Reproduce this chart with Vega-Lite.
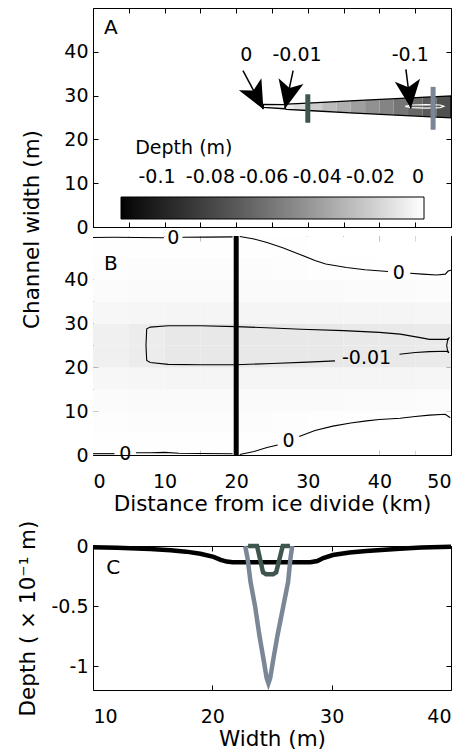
{
  "$schema": "https://vega.github.io/schema/vega-lite/v6.json",
  "padding": {"left": 17, "top": 7, "right": 5, "bottom": 5},
  "config": {
    "font": "DejaVu Sans",
    "view": {"stroke": "black", "strokeWidth": 1},
    "axis": {"domain": false, "grid": false, "ticks": true, "tickColor": "black", "tickSize": -5, "tickWidth": 1,
      "labelFont": "DejaVu Sans", "labelFontSize": 19, "labelColor": "black", "labelPadding": 10,
      "titleFont": "DejaVu Sans", "titleFontSize": 21.5, "titleFontWeight": "normal", "titleColor": "black"},
    "legend": {"padding": 0}
  },
  "datasets": {
    "chan": [
      {"x0": 23.8, "x1": 25, "lo": 27.25, "hi": 28.0, "d": -0.001},
      {"x0": 25, "x1": 26.8, "lo": 27.1, "hi": 27.95, "d": -0.002},
      {"x0": 26.8, "x1": 28, "lo": 26.85, "hi": 28.05, "d": -0.008},
      {"x0": 28, "x1": 30, "lo": 26.7, "hi": 28.2, "d": -0.013},
      {"x0": 30, "x1": 32, "lo": 26.5, "hi": 28.4, "d": -0.02},
      {"x0": 32, "x1": 34, "lo": 26.35, "hi": 28.55, "d": -0.027},
      {"x0": 34, "x1": 36, "lo": 26.15, "hi": 28.75, "d": -0.033},
      {"x0": 36, "x1": 38, "lo": 25.95, "hi": 28.9, "d": -0.039},
      {"x0": 38, "x1": 40, "lo": 25.8, "hi": 29.05, "d": -0.045},
      {"x0": 40, "x1": 42, "lo": 25.65, "hi": 29.2, "d": -0.051},
      {"x0": 42, "x1": 44, "lo": 25.5, "hi": 29.35, "d": -0.057},
      {"x0": 44, "x1": 46, "lo": 25.35, "hi": 29.5, "d": -0.064},
      {"x0": 46, "x1": 48, "lo": 25.2, "hi": 29.7, "d": -0.07},
      {"x0": 48, "x1": 50, "lo": 25.0, "hi": 29.9, "d": -0.075}
    ],
    "outline": [
      {"o": 1, "x": 23.8, "y": 27.3}, {"o": 2, "x": 23.8, "y": 28.0}, {"o": 3, "x": 26.8, "y": 27.95},
      {"o": 4, "x": 27.0, "y": 28.05}, {"o": 5, "x": 30, "y": 28.3}, {"o": 6, "x": 36.6, "y": 28.85},
      {"o": 7, "x": 43, "y": 29.35}, {"o": 8, "x": 50, "y": 29.95}, {"o": 9, "x": 50, "y": 24.9},
      {"o": 10, "x": 43, "y": 25.5}, {"o": 11, "x": 36.6, "y": 26.0}, {"o": 12, "x": 30, "y": 26.6},
      {"o": 13, "x": 27.0, "y": 26.85}, {"o": 14, "x": 26.8, "y": 27.0}, {"o": 15, "x": 23.8, "y": 27.3}
    ],
    "loop": [
      {"o": 1, "x": 43.6, "y": 27.55}, {"o": 2, "x": 44.5, "y": 27.85}, {"o": 3, "x": 46.5, "y": 27.95},
      {"o": 4, "x": 48.5, "y": 27.85}, {"o": 5, "x": 49.0, "y": 27.55}, {"o": 6, "x": 48.5, "y": 27.25},
      {"o": 7, "x": 46.5, "y": 27.15}, {"o": 8, "x": 44.5, "y": 27.25}, {"o": 9, "x": 43.6, "y": 27.55}
    ],
    "arrows": [
      {"label": "0", "xs": 20.95, "ys": 35.7, "xt": 23.8, "yt": 26.9, "xl": 21.4, "yl": 39.2},
      {"label": "-0.01", "xs": 27.95, "ys": 35.7, "xt": 26.8, "yt": 27.0, "xl": 28.5, "yl": 39.2},
      {"label": "-0.1", "xs": 43.7, "ys": 36.0, "xt": 44.4, "yt": 27.1, "xl": 44.3, "yl": 39.2}
    ],
    "bars": [
      {"profile": "x = 30 km", "pos": 30.0, "lo": 23.8, "hi": 30.3},
      {"profile": "x = 47.5 km", "pos": 47.5, "lo": 22.2, "hi": 32.0}
    ],
    "heat": [
      {"x0": 0, "y0": 0, "d": -0.0004}, {"x0": 0, "y0": 5, "d": -0.0008}, {"x0": 0, "y0": 10, "d": -0.0015}, {"x0": 0, "y0": 15, "d": -0.003}, {"x0": 0, "y0": 20, "d": -0.006},
      {"x0": 0, "y0": 25, "d": -0.006}, {"x0": 0, "y0": 30, "d": -0.003}, {"x0": 0, "y0": 35, "d": -0.0015}, {"x0": 0, "y0": 40, "d": -0.0008}, {"x0": 0, "y0": 45, "d": -0.0004},
      {"x0": 5, "y0": 0, "d": -0.0005}, {"x0": 5, "y0": 5, "d": -0.001}, {"x0": 5, "y0": 10, "d": -0.0018}, {"x0": 5, "y0": 15, "d": -0.0035}, {"x0": 5, "y0": 20, "d": -0.0075},
      {"x0": 5, "y0": 25, "d": -0.0075}, {"x0": 5, "y0": 30, "d": -0.0035}, {"x0": 5, "y0": 35, "d": -0.0018}, {"x0": 5, "y0": 40, "d": -0.001}, {"x0": 5, "y0": 45, "d": -0.0005},
      {"x0": 10, "y0": 0, "d": -0.0005}, {"x0": 10, "y0": 5, "d": -0.001}, {"x0": 10, "y0": 10, "d": -0.002}, {"x0": 10, "y0": 15, "d": -0.004}, {"x0": 10, "y0": 20, "d": -0.009},
      {"x0": 10, "y0": 25, "d": -0.009}, {"x0": 10, "y0": 30, "d": -0.004}, {"x0": 10, "y0": 35, "d": -0.002}, {"x0": 10, "y0": 40, "d": -0.001}, {"x0": 10, "y0": 45, "d": -0.0005},
      {"x0": 15, "y0": 0, "d": -0.0005}, {"x0": 15, "y0": 5, "d": -0.001}, {"x0": 15, "y0": 10, "d": -0.002}, {"x0": 15, "y0": 15, "d": -0.004}, {"x0": 15, "y0": 20, "d": -0.009},
      {"x0": 15, "y0": 25, "d": -0.009}, {"x0": 15, "y0": 30, "d": -0.004}, {"x0": 15, "y0": 35, "d": -0.002}, {"x0": 15, "y0": 40, "d": -0.001}, {"x0": 15, "y0": 45, "d": -0.0005},
      {"x0": 20, "y0": 0, "d": -0.0004}, {"x0": 20, "y0": 5, "d": -0.001}, {"x0": 20, "y0": 10, "d": -0.002}, {"x0": 20, "y0": 15, "d": -0.004}, {"x0": 20, "y0": 20, "d": -0.009},
      {"x0": 20, "y0": 25, "d": -0.009}, {"x0": 20, "y0": 30, "d": -0.004}, {"x0": 20, "y0": 35, "d": -0.002}, {"x0": 20, "y0": 40, "d": -0.001}, {"x0": 20, "y0": 45, "d": -0.0004},
      {"x0": 25, "y0": 0, "d": -0.0002}, {"x0": 25, "y0": 5, "d": -0.0009}, {"x0": 25, "y0": 10, "d": -0.002}, {"x0": 25, "y0": 15, "d": -0.004}, {"x0": 25, "y0": 20, "d": -0.009},
      {"x0": 25, "y0": 25, "d": -0.009}, {"x0": 25, "y0": 30, "d": -0.004}, {"x0": 25, "y0": 35, "d": -0.002}, {"x0": 25, "y0": 40, "d": -0.0009}, {"x0": 25, "y0": 45, "d": -0.0002},
      {"x0": 30, "y0": 0, "d": 0}, {"x0": 30, "y0": 5, "d": -0.0005}, {"x0": 30, "y0": 10, "d": -0.0018}, {"x0": 30, "y0": 15, "d": -0.004}, {"x0": 30, "y0": 20, "d": -0.009},
      {"x0": 30, "y0": 25, "d": -0.009}, {"x0": 30, "y0": 30, "d": -0.004}, {"x0": 30, "y0": 35, "d": -0.0018}, {"x0": 30, "y0": 40, "d": -0.0005}, {"x0": 30, "y0": 45, "d": 0},
      {"x0": 35, "y0": 0, "d": 0}, {"x0": 35, "y0": 5, "d": -0.0003}, {"x0": 35, "y0": 10, "d": -0.0016}, {"x0": 35, "y0": 15, "d": -0.004}, {"x0": 35, "y0": 20, "d": -0.0088},
      {"x0": 35, "y0": 25, "d": -0.0088}, {"x0": 35, "y0": 30, "d": -0.004}, {"x0": 35, "y0": 35, "d": -0.0016}, {"x0": 35, "y0": 40, "d": -0.0003}, {"x0": 35, "y0": 45, "d": 0},
      {"x0": 40, "y0": 0, "d": 0}, {"x0": 40, "y0": 5, "d": 0}, {"x0": 40, "y0": 10, "d": -0.0015}, {"x0": 40, "y0": 15, "d": -0.004}, {"x0": 40, "y0": 20, "d": -0.0086},
      {"x0": 40, "y0": 25, "d": -0.0086}, {"x0": 40, "y0": 30, "d": -0.004}, {"x0": 40, "y0": 35, "d": -0.0015}, {"x0": 40, "y0": 40, "d": 0}, {"x0": 40, "y0": 45, "d": 0},
      {"x0": 45, "y0": 0, "d": 0}, {"x0": 45, "y0": 5, "d": 0}, {"x0": 45, "y0": 10, "d": -0.0013}, {"x0": 45, "y0": 15, "d": -0.0036}, {"x0": 45, "y0": 20, "d": -0.0082},
      {"x0": 45, "y0": 25, "d": -0.0082}, {"x0": 45, "y0": 30, "d": -0.0036}, {"x0": 45, "y0": 35, "d": -0.0013}, {"x0": 45, "y0": 40, "d": 0}, {"x0": 45, "y0": 45, "d": 0}
    ],
    "cont": [
      {"id": "t0a", "o": 1, "x": 0, "y": 49.65}, {"id": "t0a", "o": 2, "x": 3, "y": 49.7}, {"id": "t0a", "o": 3, "x": 6, "y": 49.65}, {"id": "t0a", "o": 4, "x": 9.9, "y": 49.6},
      {"id": "t0b", "o": 1, "x": 12.5, "y": 49.7}, {"id": "t0b", "o": 2, "x": 16, "y": 49.75}, {"id": "t0b", "o": 3, "x": 19.5, "y": 49.8},
      {"id": "t0c", "o": 1, "x": 20.5, "y": 49.9}, {"id": "t0c", "o": 2, "x": 22.5, "y": 49.3}, {"id": "t0c", "o": 3, "x": 24.3, "y": 48.5}, {"id": "t0c", "o": 4, "x": 26.5, "y": 47.3},
      {"id": "t0c", "o": 5, "x": 28.9, "y": 45.8}, {"id": "t0c", "o": 6, "x": 31, "y": 44.4}, {"id": "t0c", "o": 7, "x": 32.5, "y": 43.6}, {"id": "t0c", "o": 8, "x": 35.4, "y": 42.8},
      {"id": "t0c", "o": 9, "x": 38, "y": 42.3}, {"id": "t0c", "o": 10, "x": 41.2, "y": 41.9},
      {"id": "t0d", "o": 1, "x": 44.3, "y": 41.5}, {"id": "t0d", "o": 2, "x": 46, "y": 41.3}, {"id": "t0d", "o": 3, "x": 48, "y": 41.1}, {"id": "t0d", "o": 4, "x": 49.2, "y": 41.3},
      {"id": "t0d", "o": 5, "x": 49.6, "y": 42.0}, {"id": "t0d", "o": 6, "x": 50, "y": 42.2},
      {"id": "b0a", "o": 1, "x": 0, "y": 0.3}, {"id": "b0a", "o": 2, "x": 3.0, "y": 0.3},
      {"id": "b0b", "o": 1, "x": 6.0, "y": 0.5}, {"id": "b0b", "o": 2, "x": 8, "y": 0.5}, {"id": "b0b", "o": 3, "x": 10, "y": 0.6}, {"id": "b0b", "o": 4, "x": 12, "y": 0.4},
      {"id": "b0b", "o": 5, "x": 15, "y": 0.35}, {"id": "b0b", "o": 6, "x": 19.5, "y": 0.3},
      {"id": "b0c", "o": 1, "x": 20.5, "y": 0.1}, {"id": "b0c", "o": 2, "x": 22.5, "y": 0.8}, {"id": "b0c", "o": 3, "x": 24.3, "y": 1.7}, {"id": "b0c", "o": 4, "x": 25.8, "y": 2.3},
      {"id": "b0d", "o": 1, "x": 28.8, "y": 4.2}, {"id": "b0d", "o": 2, "x": 31, "y": 5.6}, {"id": "b0d", "o": 3, "x": 33.5, "y": 6.6}, {"id": "b0d", "o": 4, "x": 36, "y": 7.3},
      {"id": "b0d", "o": 5, "x": 38.2, "y": 7.8}, {"id": "b0d", "o": 6, "x": 40, "y": 8.1}, {"id": "b0d", "o": 7, "x": 42.9, "y": 8.4}, {"id": "b0d", "o": 8, "x": 45, "y": 8.8},
      {"id": "b0d", "o": 9, "x": 47, "y": 9.1}, {"id": "b0d", "o": 10, "x": 49.2, "y": 9.3}, {"id": "b0d", "o": 11, "x": 49.9, "y": 8.5},
      {"id": "m1", "o": 1, "x": 42.8, "y": 23.0}, {"id": "m1", "o": 2, "x": 45, "y": 23.4}, {"id": "m1", "o": 3, "x": 47, "y": 23.6}, {"id": "m1", "o": 4, "x": 49.4, "y": 23.7},
      {"id": "m1", "o": 5, "x": 49.7, "y": 23.3}, {"id": "m1", "o": 6, "x": 49.5, "y": 24.0}, {"id": "m1", "o": 7, "x": 49.4, "y": 25.0}, {"id": "m1", "o": 8, "x": 49.5, "y": 26.0},
      {"id": "m1", "o": 9, "x": 49.7, "y": 26.7}, {"id": "m1", "o": 10, "x": 49.4, "y": 26.4}, {"id": "m1", "o": 11, "x": 48.5, "y": 26.4}, {"id": "m1", "o": 12, "x": 47, "y": 26.4},
      {"id": "m1", "o": 13, "x": 45.7, "y": 26.8}, {"id": "m1", "o": 14, "x": 42.9, "y": 27.6}, {"id": "m1", "o": 15, "x": 40, "y": 28.0}, {"id": "m1", "o": 16, "x": 35, "y": 28.4},
      {"id": "m1", "o": 17, "x": 29.1, "y": 28.7}, {"id": "m1", "o": 18, "x": 25, "y": 29.0}, {"id": "m1", "o": 19, "x": 20, "y": 29.3}, {"id": "m1", "o": 20, "x": 15, "y": 29.5},
      {"id": "m1", "o": 21, "x": 10.5, "y": 29.5}, {"id": "m1", "o": 22, "x": 8, "y": 29.2}, {"id": "m1", "o": 23, "x": 7.5, "y": 28.8}, {"id": "m1", "o": 24, "x": 7.4, "y": 25},
      {"id": "m1", "o": 25, "x": 7.5, "y": 21.6}, {"id": "m1", "o": 26, "x": 8, "y": 21.1}, {"id": "m1", "o": 27, "x": 10.5, "y": 20.7}, {"id": "m1", "o": 28, "x": 15, "y": 20.6},
      {"id": "m1", "o": 29, "x": 20, "y": 20.6}, {"id": "m1", "o": 30, "x": 25, "y": 20.9}, {"id": "m1", "o": 31, "x": 30, "y": 21.2}, {"id": "m1", "o": 32, "x": 33.8, "y": 21.5}
    ],
    "clab": [
      {"t": "0", "x": 11.2, "y": 49.5},
      {"t": "0", "x": 42.7, "y": 41.6},
      {"t": "-0.01", "x": 38.2, "y": 22.1},
      {"t": "0", "x": 4.5, "y": 0.3},
      {"t": "0", "x": 27.3, "y": 3.1}
    ],
    "section": [{"profile": "x = 20 km", "x": 20}],
    "prof": [
      {"profile": "x = 20 km", "w": 10, "d": -0.01}, {"profile": "x = 20 km", "w": 12, "d": -0.015}, {"profile": "x = 20 km", "w": 14.8, "d": -0.025},
      {"profile": "x = 20 km", "w": 16.5, "d": -0.035}, {"profile": "x = 20 km", "w": 17.8, "d": -0.047}, {"profile": "x = 20 km", "w": 19, "d": -0.065},
      {"profile": "x = 20 km", "w": 20.1, "d": -0.09}, {"profile": "x = 20 km", "w": 20.7, "d": -0.115}, {"profile": "x = 20 km", "w": 21.2, "d": -0.13},
      {"profile": "x = 20 km", "w": 21.7, "d": -0.135}, {"profile": "x = 20 km", "w": 25, "d": -0.135}, {"profile": "x = 20 km", "w": 28.2, "d": -0.135},
      {"profile": "x = 20 km", "w": 28.8, "d": -0.125}, {"profile": "x = 20 km", "w": 29.3, "d": -0.1}, {"profile": "x = 20 km", "w": 30.1, "d": -0.075},
      {"profile": "x = 20 km", "w": 31.5, "d": -0.055}, {"profile": "x = 20 km", "w": 32.9, "d": -0.042}, {"profile": "x = 20 km", "w": 35.7, "d": -0.022},
      {"profile": "x = 20 km", "w": 37.5, "d": -0.012}, {"profile": "x = 20 km", "w": 40, "d": -0.006},
      {"profile": "x = 30 km", "w": 23.0, "d": 0}, {"profile": "x = 30 km", "w": 23.75, "d": 0}, {"profile": "x = 30 km", "w": 24.25, "d": -0.22},
      {"profile": "x = 30 km", "w": 24.5, "d": -0.235}, {"profile": "x = 30 km", "w": 25.1, "d": -0.235}, {"profile": "x = 30 km", "w": 25.35, "d": -0.22},
      {"profile": "x = 30 km", "w": 25.9, "d": 0}, {"profile": "x = 30 km", "w": 26.5, "d": 0},
      {"profile": "x = 47.5 km", "w": 22.75, "d": 0}, {"profile": "x = 47.5 km", "w": 22.95, "d": -0.1}, {"profile": "x = 47.5 km", "w": 23.2, "d": -0.3},
      {"profile": "x = 47.5 km", "w": 23.58, "d": -0.5}, {"profile": "x = 47.5 km", "w": 23.95, "d": -0.75}, {"profile": "x = 47.5 km", "w": 24.3, "d": -0.95},
      {"profile": "x = 47.5 km", "w": 24.55, "d": -1.1}, {"profile": "x = 47.5 km", "w": 24.7, "d": -1.145}, {"profile": "x = 47.5 km", "w": 24.85, "d": -1.1},
      {"profile": "x = 47.5 km", "w": 25.1, "d": -0.95}, {"profile": "x = 47.5 km", "w": 25.45, "d": -0.75}, {"profile": "x = 47.5 km", "w": 25.95, "d": -0.5},
      {"profile": "x = 47.5 km", "w": 26.35, "d": -0.3}, {"profile": "x = 47.5 km", "w": 26.55, "d": -0.1}, {"profile": "x = 47.5 km", "w": 26.7, "d": 0}
    ]
  },
  "vconcat": [
    {
      "vconcat": [
        {
          "width": 358, "height": 219,
          "resolve": {"axis": {"x": "independent", "y": "independent"}},
          "layer": [
            {
              "data": {"name": "chan"},
              "mark": {"type": "rect"},
              "encoding": {
                "x": {"field": "x0", "type": "quantitative", "scale": {"domain": [0, 50], "nice": false, "zero": false},
                  "axis": {"orient": "bottom", "values": [0, 5, 10, 15, 20, 25, 30, 35, 40, 45, 50], "labels": false, "title": null}},
                "x2": {"field": "x1"},
                "y": {"field": "lo", "type": "quantitative", "scale": {"domain": [0, 50], "nice": false, "zero": false},
                  "axis": {"orient": "left", "values": [0, 10, 20, 30, 40], "title": null}},
                "y2": {"field": "hi"},
                "color": {"field": "d", "type": "quantitative",
                  "scale": {"type": "linear", "domain": [-0.1135, 0], "range": ["#000000", "#ffffff"], "clamp": true},
                  "legend": {"orient": "none", "legendX": 28, "legendY": 189, "direction": "horizontal",
                    "gradientLength": 303, "gradientThickness": 22, "gradientStrokeColor": "black", "gradientStrokeWidth": 1,
                    "title": null,
                    "values": [-0.1, -0.08, -0.06, -0.04, -0.02, 0], "format": "~g", "labelExpr": "replace(datum.label, '\u2212', '-')",
                    "labelFont": "DejaVu Sans", "labelFontSize": 19, "labelColor": "black", "labelOffset": -51, "labelBaseline": "alphabetic", "labelAlign": "center", "labelOverlap": false}}
              }
            },
            {
              "data": {"name": "outline"},
              "mark": {"type": "line", "color": "black", "strokeWidth": 1.3},
              "encoding": {
                "x": {"field": "x", "type": "quantitative", "axis": {"orient": "top", "values": [0, 5, 10, 15, 20, 25, 30, 35, 40, 45, 50], "labels": false, "title": null}},
                "y": {"field": "y", "type": "quantitative", "axis": {"orient": "right", "values": [0, 10, 20, 30, 40], "labels": false, "title": null}},
                "order": {"field": "o"}
              }
            },
            {
              "data": {"name": "loop"},
              "mark": {"type": "line", "color": "white", "strokeWidth": 1.2},
              "encoding": {"x": {"field": "x", "type": "quantitative", "axis": null}, "y": {"field": "y", "type": "quantitative", "axis": null}, "order": {"field": "o"}}
            },
            {
              "data": {"name": "bars"},
              "mark": {"type": "rule", "strokeWidth": 5},
              "encoding": {
                "x": {"field": "pos", "type": "quantitative", "axis": null},
                "y": {"field": "lo", "type": "quantitative", "axis": null},
                "y2": {"field": "hi"},
                "stroke": {"field": "profile", "type": "nominal", "scale": {"domain": ["x = 20 km", "x = 30 km", "x = 47.5 km"], "range": ["#000000", "#3f5650", "#7b8696"]}, "legend": null}
              }
            },
            {
              "data": {"name": "arrows"},
              "mark": {"type": "rule", "color": "black", "strokeWidth": 1.5},
              "encoding": {
                "x": {"field": "xs", "type": "quantitative", "axis": null}, "y": {"field": "ys", "type": "quantitative", "axis": null},
                "x2": {"field": "xt"}, "y2": {"field": "yt"}
              }
            },
            {
              "data": {"name": "arrows"},
              "mark": {"type": "point", "shape": "M0,0L-0.9,-2L0,-1.5L0.9,-2Z", "filled": true, "color": "black", "opacity": 1, "size": 800},
              "encoding": {
                "x": {"field": "xt", "type": "quantitative", "axis": null}, "y": {"field": "yt", "type": "quantitative", "axis": null},
                "angle": {"condition": [{"test": "datum.label === '0'", "value": 332}, {"test": "datum.label === '-0.01'", "value": 12.5}], "value": 353}
              }
            },
            {
              "data": {"name": "arrows"},
              "mark": {"type": "text", "fontSize": 19, "color": "black", "baseline": "middle", "align": "center"},
              "encoding": {
                "x": {"field": "xl", "type": "quantitative", "axis": null}, "y": {"field": "yl", "type": "quantitative", "axis": null},
                "text": {"field": "label"}
              }
            },
            {
              "data": {"values": [{"t": "A", "x": 2.5, "y": 45.5}]},
              "mark": {"type": "text", "fontSize": 20, "color": "black", "baseline": "middle", "align": "center"},
              "encoding": {"x": {"field": "x", "type": "quantitative", "axis": null}, "y": {"field": "y", "type": "quantitative", "axis": null}, "text": {"field": "t"}}
            },
            {
              "data": {"values": [{"t": "Depth (m)", "x": 5.9, "y": 18.0}]},
              "mark": {"type": "text", "fontSize": 19, "color": "black", "baseline": "middle", "align": "left"},
              "encoding": {"x": {"field": "x", "type": "quantitative", "axis": null}, "y": {"field": "y", "type": "quantitative", "axis": null}, "text": {"field": "t"}}
            }
          ]
        },
        {
          "width": 358, "height": 219,
          "resolve": {"axis": {"x": "independent", "y": "independent"}},
          "layer": [
            {
              "data": {"name": "heat"},
              "transform": [{"calculate": "datum.x0 + 5", "as": "x1"}, {"calculate": "datum.y0 + 5", "as": "y1"}],
              "mark": {"type": "rect"},
              "encoding": {
                "x": {"field": "x0", "type": "quantitative", "scale": {"domain": [0, 50], "nice": false, "zero": false},
                  "axis": {"orient": "bottom", "values": [0, 5, 10, 15, 20, 25, 30, 35, 40, 45, 50], "labelExpr": "datum.value % 10 === 0 ? datum.label : ''", "title": "Distance from ice divide (km)", "labelPadding": 22, "titlePadding": 2}},
                "x2": {"field": "x1"},
                "y": {"field": "y0", "type": "quantitative", "scale": {"domain": [0, 50], "nice": false, "zero": false},
                  "axis": {"orient": "left", "values": [0, 10, 20, 30, 40], "title": "Channel width (m)", "titleY": -7, "titlePadding": 20}},
                "y2": {"field": "y1"},
                "color": {"field": "d", "type": "quantitative", "scale": {"type": "linear", "domain": [-0.1135, 0], "range": ["#000000", "#ffffff"], "clamp": true}, "legend": null}
              }
            },
            {
              "data": {"name": "cont"},
              "mark": {"type": "line", "color": "black", "strokeWidth": 1.1},
              "encoding": {
                "x": {"field": "x", "type": "quantitative", "axis": {"orient": "top", "values": [0, 5, 10, 15, 20, 25, 30, 35, 40, 45, 50], "labels": false, "title": null}},
                "y": {"field": "y", "type": "quantitative", "axis": {"orient": "right", "values": [0, 10, 20, 30, 40], "labels": false, "title": null}},
                "detail": {"field": "id"}, "order": {"field": "o"}
              }
            },
            {
              "data": {"name": "clab"},
              "mark": {"type": "text", "fontSize": 19, "color": "black", "baseline": "middle", "align": "center"},
              "encoding": {"x": {"field": "x", "type": "quantitative", "axis": null}, "y": {"field": "y", "type": "quantitative", "axis": null}, "text": {"field": "t"}}
            },
            {
              "data": {"name": "section"},
              "mark": {"type": "rule", "color": "black", "strokeWidth": 5},
              "encoding": {"x": {"field": "x", "type": "quantitative", "axis": null}}
            },
            {
              "data": {"values": [{"t": "B", "x": 2.5, "y": 43.5}]},
              "mark": {"type": "text", "fontSize": 20, "color": "black", "baseline": "middle", "align": "center"},
              "encoding": {"x": {"field": "x", "type": "quantitative", "axis": null}, "y": {"field": "y", "type": "quantitative", "axis": null}, "text": {"field": "t"}}
            }
          ]
        }
      ],
      "spacing": 9,
      "bounds": "flush",
      "resolve": {"scale": {"color": "independent"}, "legend": {"color": "independent"}}
    },
    {
      "width": 358, "height": 144,
      "resolve": {"axis": {"x": "independent", "y": "independent"}},
      "layer": [
        {
          "data": {"name": "prof"},
          "transform": [{"filter": "datum.profile !== 'x = 30 km'"}],
          "mark": {"type": "line", "strokeWidth": 4.5},
          "encoding": {
            "x": {"field": "w", "type": "quantitative", "scale": {"domain": [10, 40], "nice": false, "zero": false},
              "axis": {"orient": "bottom", "values": [10, 20, 30, 40], "title": "Width (m)", "labelPadding": 22, "titlePadding": 2}},
            "y": {"field": "d", "type": "quantitative", "scale": {"domain": [-1.2, 0], "nice": false, "zero": false},
              "axis": {"orient": "left", "values": [0, -0.5, -1], "format": "~g", "labelExpr": "replace(datum.label, '\u2212', '-')", "title": "Depth ( \u00d7 10\u207b\u00b9 m)", "titlePadding": 11}},
            "stroke": {"field": "profile", "type": "nominal", "scale": {"domain": ["x = 20 km", "x = 30 km", "x = 47.5 km"], "range": ["#000000", "#3f5650", "#7b8696"]}, "legend": null}
          }
        },
        {
          "data": {"name": "prof"},
          "transform": [{"filter": "datum.profile === 'x = 30 km'"}],
          "mark": {"type": "line", "strokeWidth": 4.5},
          "encoding": {
            "x": {"field": "w", "type": "quantitative", "axis": {"orient": "top", "values": [10, 20, 30, 40], "labels": false, "title": null}},
            "y": {"field": "d", "type": "quantitative", "axis": {"orient": "right", "values": [0, -0.5, -1], "labels": false, "title": null}},
            "stroke": {"field": "profile", "type": "nominal", "legend": null}
          }
        },
        {
          "data": {"values": [{"t": "C", "x": 11.7, "y": -0.186}]},
          "mark": {"type": "text", "fontSize": 20, "color": "black", "baseline": "middle", "align": "center"},
          "encoding": {"x": {"field": "x", "type": "quantitative", "axis": null}, "y": {"field": "y", "type": "quantitative", "axis": null}, "text": {"field": "t"}}
        }
      ]
    }
  ],
  "spacing": 4,
  "resolve": {"scale": {"color": "independent"}, "legend": {"color": "independent"}}
}
